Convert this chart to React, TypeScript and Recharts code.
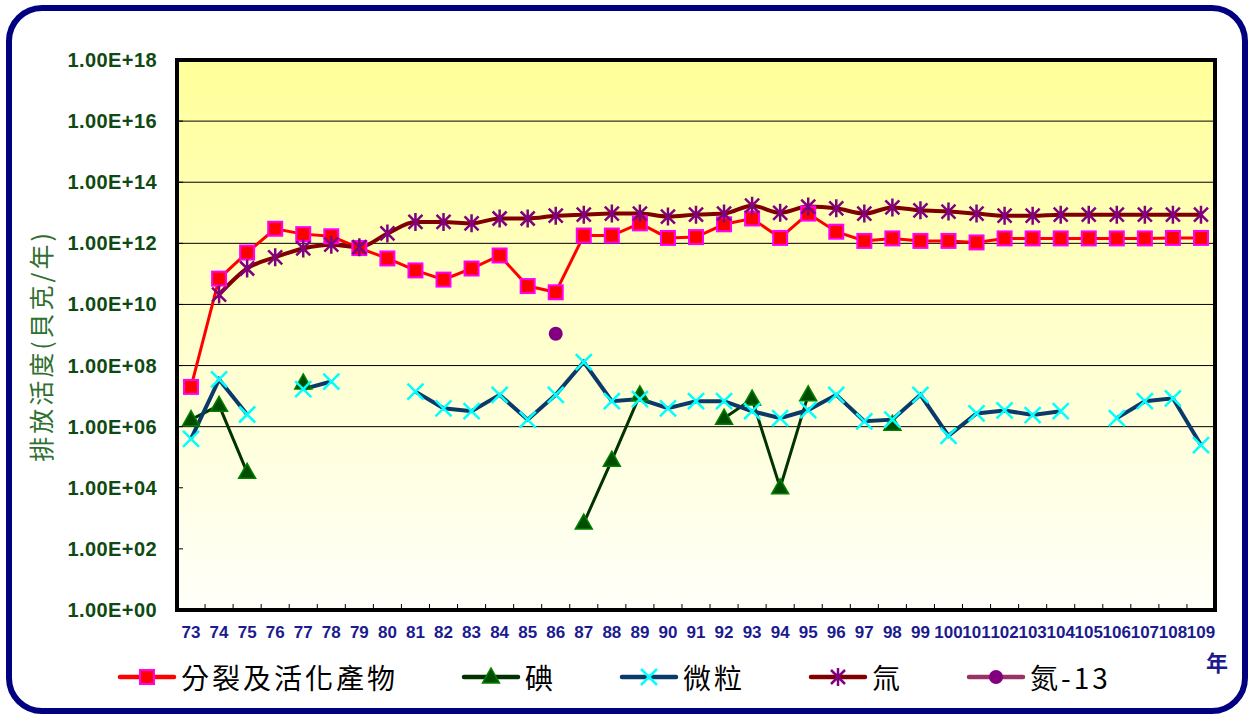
import React from "react";
import {
  Legend,
  Line,
  LineChart,
  ReferenceArea,
  ReferenceLine,
  XAxis,
  YAxis,
} from "recharts";

// 民國年
const years = [
  "73", "74", "75", "76", "77", "78", "79", "80", "81", "82", "83", "84", "85",
  "86", "87", "88", "89", "90", "91", "92", "93", "94", "95", "96", "97", "98",
  "99", "100", "101", "102", "103", "104", "105", "106", "107", "108", "109",
];

// 排放活度 (貝克/年)
const fission = [
  2e7, 7e10, 5e11, 3e12, 2e12, 1.7e12, 7e11, 3.2e11, 1.3e11, 6.5e10, 1.5e11,
  4e11, 4e10, 2.5e10, 1.8e12, 1.8e12, 4.5e12, 1.5e12, 1.6e12, 4.2e12, 6.5e12,
  1.5e12, 9.4e12, 2.4e12, 1.2e12, 1.45e12, 1.2e12, 1.2e12, 1.07e12, 1.45e12,
  1.45e12, 1.45e12, 1.45e12, 1.45e12, 1.45e12, 1.5e12, 1.5e12,
];
const iodine = [
  1.7e6, 5e6, 3.2e4, null, 2.7e7, null, null, null, null, null, null, null,
  null, null, 7e2, 8e4, 1.1e7, null, null, 1.9e6, 8e6, 1e4, 1.1e7, null, null,
  1.2e6, null, null, null, null, null, null, null, null, null, null, null,
];
const particulate = [
  4e5, 3.5e7, 2.5e6, null, 1.7e7, 3e7, null, null, 1.4e7, 4e6, 3.2e6, 1.1e7,
  1.7e6, 1.1e7, 1.3e8, 6.8e6, 8e6, 4e6, 6.8e6, 6.8e6, 3.2e6, 1.9e6, 3.5e6,
  1.1e7, 1.5e6, 1.7e6, 1.1e7, 5e5, 2.7e6, 3.4e6, 2.4e6, 3.2e6, null, 1.9e6,
  6.8e6, 8.5e6, 2.5e5,
];
const tritium = [
  null, 2.1e10, 1.5e11, 3.5e11, 6.8e11, 9e11, 7.5e11, 2.1e12, 5e12, 5e12,
  4.5e12, 6.5e12, 6.5e12, 8e12, 8.7e12, 9.4e12, 9.4e12, 7.5e12, 8.7e12,
  9.4e12, 1.7e13, 1e13, 1.6e13, 1.4e13, 9.4e12, 1.5e13, 1.2e13, 1.1e13,
  9.4e12, 8e12, 8e12, 8.7e12, 8.7e12, 8.7e12, 8.7e12, 8.7e12, 8.7e12,
];
const nitrogen13 = [
  null, null, null, null, null, null, null, null, null, null, null, null, null,
  1.1e9, null, null, null, null, null, null, null, null, null, null, null, null,
  null, null, null, null, null, null, null, null, null, null, null,
];

const yTicks = [1, 1e2, 1e4, 1e6, 1e8, 1e10, 1e12, 1e14, 1e16, 1e18];
const gridValues = [1e6, 1e8, 1e10, 1e12, 1e14, 1e16];

const data = years.map((year, i) => ({
  year,
  fission: fission[i],
  iodine: iodine[i],
  particulate: particulate[i],
  tritium: tritium[i],
  nitrogen13: nitrogen13[i],
}));

const W = 1253;
const H = 717;
const MARGIN = { top: 60, right: 38, left: 7, bottom: 67 };
const BAND = (W - MARGIN.left - 170 - MARGIN.right) / years.length;

const NUM_FONT = "'Liberation Sans', Arial, sans-serif";
const CJK_FONT = "'Noto Sans CJK TC', 'Noto Sans CJK SC', sans-serif";

function formatSci(v: number) {
  const exp = Math.round(Math.log10(v));
  return `1.00E+${String(exp).padStart(2, "0")}`;
}

function YTick(props: any) {
  const { x, y, payload } = props;
  return (
    <g>
      <line x1={x + 20} x2={x + 26} y1={y} y2={y} stroke="#000" />
      <text
        x={x}
        y={y}
        dy={7}
        textAnchor="end"
        fontFamily={NUM_FONT}
        fontWeight="bold"
        fontSize={20}
        letterSpacing={0.4}
        fill="#0f4a12"
      >
        {formatSci(payload.value)}
      </text>
    </g>
  );
}

function XTick(props: any) {
  const { x, y, payload, index } = props;
  return (
    <g>
      {index > 0 && (
        <line
          x1={x - BAND / 2}
          x2={x - BAND / 2}
          y1={y}
          y2={y - 6}
          stroke="#000"
        />
      )}
      <text
        x={x}
        y={y + 28}
        textAnchor="middle"
        fontFamily={NUM_FONT}
        fontWeight="bold"
        fontSize={17}
        fill="#1b1b8f"
      >
        {payload.value}
      </text>
    </g>
  );
}

const empty = (key: string) => <g key={key} />;

function SquareDot(p: any) {
  const k = `sq-${p.index}`;
  if (p.value == null || p.cy == null) return empty(k);
  return (
    <rect
      key={k}
      x={p.cx - 7}
      y={p.cy - 7}
      width={14}
      height={14}
      fill="#ff0000"
      stroke="#ff00ff"
      strokeWidth={2}
    />
  );
}

function TriangleDot(p: any) {
  const k = `tr-${p.index}`;
  if (p.value == null || p.cy == null) return empty(k);
  const { cx, cy } = p;
  return (
    <path
      key={k}
      d={`M${cx},${cy - 9} L${cx + 8.5},${cy + 6} L${cx - 8.5},${cy + 6} Z`}
      fill="#004d00"
      stroke="#008000"
      strokeWidth={1.5}
    />
  );
}

function CrossDot(p: any) {
  const k = `x-${p.index}`;
  if (p.value == null || p.cy == null) return empty(k);
  const { cx, cy } = p;
  const s = 8;
  return (
    <path
      key={k}
      d={`M${cx - s},${cy - s} L${cx + s},${cy + s} M${cx + s},${cy - s} L${cx - s},${cy + s}`}
      stroke="#00ffff"
      strokeWidth={2.5}
    />
  );
}

function StarDot(p: any) {
  const k = `st-${p.index}`;
  if (p.value == null || p.cy == null) return empty(k);
  const { cx, cy } = p;
  const s = 8;
  const d = 7;
  return (
    <path
      key={k}
      d={`M${cx},${cy - s - 1} L${cx},${cy + s + 1} M${cx - d},${cy - d} L${cx + d},${cy + d} M${cx + d},${cy - d} L${cx - d},${cy + d}`}
      stroke="#800080"
      strokeWidth={2.5}
    />
  );
}

function CircleDot(p: any) {
  const k = `c-${p.index}`;
  if (p.value == null || p.cy == null) return empty(k);
  return <circle key={k} cx={p.cx} cy={p.cy} r={7} fill="#800080" />;
}

const legendItems = [
  { name: "分裂及活化產物", line: "#ff0000", marker: "square" },
  { name: "碘", line: "#003300", marker: "triangle" },
  { name: "微粒", line: "#0a3a6a", marker: "cross" },
  { name: "氚", line: "#800000", marker: "star" },
  { name: "氮-13", line: "#993366", marker: "circle" },
];

function LegendIcon({ line, marker }: { line: string; marker: string }) {
  const c = 29;
  const m = 10;
  let shape: React.ReactNode = null;
  if (marker === "square") {
    shape = <rect x={c - 7} y={m - 7} width={14} height={14} fill="#ff0000" stroke="#ff00ff" strokeWidth={2} />;
  } else if (marker === "triangle") {
    shape = <path d={`M${c},${m - 9} L${c + 8.5},${m + 6} L${c - 8.5},${m + 6} Z`} fill="#004d00" stroke="#008000" strokeWidth={1.5} />;
  } else if (marker === "cross") {
    shape = <path d={`M${c - 8},${m - 8} L${c + 8},${m + 8} M${c + 8},${m - 8} L${c - 8},${m + 8}`} stroke="#00ffff" strokeWidth={2.5} />;
  } else if (marker === "star") {
    shape = <path d={`M${c},${m - 9} L${c},${m + 9} M${c - 7},${m - 7} L${c + 7},${m + 7} M${c + 7},${m - 7} L${c - 7},${m + 7}`} stroke="#800080" strokeWidth={2.5} />;
  } else {
    shape = <circle cx={c} cy={m} r={7} fill="#800080" />;
  }
  return (
    <svg width={58} height={20} style={{ overflow: "visible" }}>
      <line x1={2} x2={56} y1={m} y2={m} stroke={line} strokeWidth={4.5} strokeLinecap="round" />
      {shape}
    </svg>
  );
}

function renderLegend() {
  return (
    <div
      style={{
        display: "flex",
        alignItems: "center",
        gap: 64,
        paddingLeft: 118,
      }}
    >
      {legendItems.map((it) => (
        <div key={it.name} style={{ display: "flex", alignItems: "center" }}>
          <LegendIcon line={it.line} marker={it.marker} />
          <span
            style={{
              marginLeft: 5,
              fontFamily: CJK_FONT,
              fontSize: 28,
              letterSpacing: 3,
              color: "#000",
              lineHeight: "36px",
            }}
          >
            {it.name}
          </span>
        </div>
      ))}
    </div>
  );
}

export default function App() {
  return (
    <div
      style={{
        position: "absolute",
        left: 0,
        top: 0,
        width: W,
        height: H,
        background: "#fff",
      }}
    >
      <div
        style={{
          position: "absolute",
          left: 6,
          top: 5,
          width: 1242,
          height: 709,
          border: "6px solid #000080",
          borderRadius: 36,
          boxSizing: "border-box",
        }}
      />
      <LineChart width={W} height={H} data={data} margin={MARGIN}>
        <defs>
          <linearGradient id="plotBg" x1="0" y1="0" x2="0" y2="1">
            <stop offset="0%" stopColor="#ffff99" />
            <stop offset="50%" stopColor="#ffffcc" />
            <stop offset="100%" stopColor="#fffffa" />
          </linearGradient>
        </defs>
        <XAxis
          dataKey="year"
          scale="band"
          interval={0}
          axisLine={false}
          tickLine={false}
          tickSize={0}
          tickMargin={0}
          height={40}
          tick={<XTick />}
        />
        <YAxis
          scale="log"
          domain={[1, 1e18]}
          ticks={yTicks}
          allowDataOverflow
          interval={0}
          width={170}
          axisLine={false}
          tickLine={false}
          tickSize={0}
          tickMargin={20}
          tick={<YTick />}
        />
        <ReferenceArea
          y1={1}
          y2={1e18}
          fill="url(#plotBg)"
          fillOpacity={1}
          stroke="#000"
          strokeWidth={4}
        />
        {gridValues.map((v) => (
          <ReferenceLine key={v} y={v} stroke="#000" strokeWidth={1} />
        ))}
        <Legend
          layout="horizontal"
          verticalAlign="middle"
          align="center"
          content={renderLegend}
          wrapperStyle={{ left: 0, top: 659, width: W }}
        />
        <Line
          dataKey="fission"
          name="分裂及活化產物"
          stroke="#ff0000"
          strokeWidth={3}
          dot={SquareDot}
          activeDot={false}
          isAnimationActive={false}
        />
        <Line
          dataKey="iodine"
          name="碘"
          stroke="#003300"
          strokeWidth={3}
          dot={TriangleDot}
          activeDot={false}
          isAnimationActive={false}
        />
        <Line
          dataKey="particulate"
          name="微粒"
          stroke="#0a3a6a"
          strokeWidth={4}
          dot={CrossDot}
          activeDot={false}
          isAnimationActive={false}
        />
        <Line
          type="monotone"
          dataKey="tritium"
          name="氚"
          stroke="#800000"
          strokeWidth={4}
          dot={StarDot}
          activeDot={false}
          isAnimationActive={false}
        />
        <Line
          dataKey="nitrogen13"
          name="氮-13"
          stroke="#993366"
          strokeWidth={3}
          dot={CircleDot}
          activeDot={false}
          isAnimationActive={false}
        />
      </LineChart>
      <div
        style={{
          position: "absolute",
          left: 40,
          top: 346,
          transform: "translate(-50%, -50%) rotate(-90deg)",
          whiteSpace: "nowrap",
          fontFamily: CJK_FONT,
          fontSize: 25,
          letterSpacing: 3,
          color: "#2f6f2f",
        }}
      >
        排放活度(貝克/年)
      </div>
      <div
        style={{
          position: "absolute",
          left: 1206,
          top: 645,
          fontFamily: CJK_FONT,
          fontWeight: "bold",
          fontSize: 22,
          color: "#1b1b8f",
        }}
      >
        年
      </div>
    </div>
  );
}
